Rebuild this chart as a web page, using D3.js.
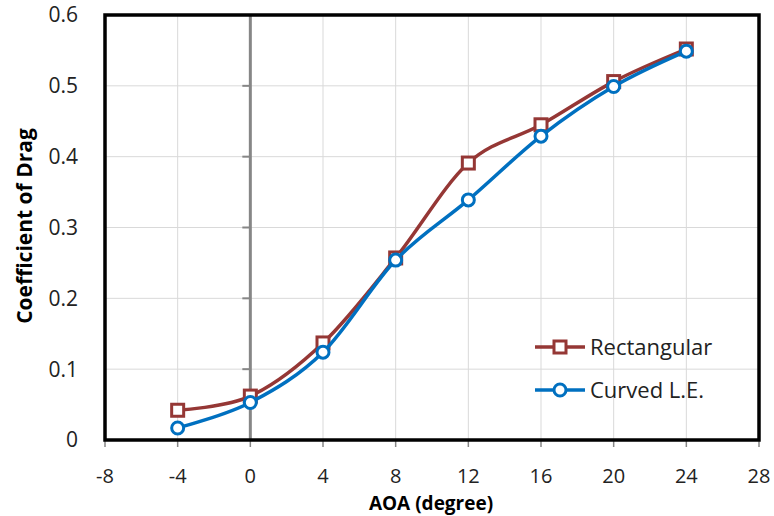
<!DOCTYPE html>
<html>
<head>
<meta charset="utf-8">
<script src="https://cdn.jsdelivr.net/npm/d3@7"></script>
<style>
  body { margin: 0; background: #fff; }
  text { font-family: "Open Sans", "Noto Sans", sans-serif; }
</style>
</head>
<body>
<svg id="chart"></svg>
<script>
// Data
const aoa = [-4, 0, 4, 8, 12, 16, 20, 24];
const rectangular = [0.042, 0.062, 0.137, 0.257, 0.391, 0.445, 0.506, 0.552];
const curvedLE = [0.017, 0.053, 0.124, 0.254, 0.339, 0.429, 0.499, 0.549];
const xTicks = [-8, -4, 0, 4, 8, 12, 16, 20, 24, 28];
const yTicks = [0, 0.1, 0.2, 0.3, 0.4, 0.5, 0.6];

const width = 774, height = 516;
const margin = { top: 15, right: 15, bottom: 76, left: 105 };
const w = width - margin.left - margin.right;
const h = height - margin.top - margin.bottom;

const svg = d3.select("#chart")
    .attr("width", width)
    .attr("height", height);

const g = svg.append("g")
    .attr("transform", "translate(" + margin.left + "," + margin.top + ")");

const x = d3.scaleLinear().domain([-8, 28]).range([0, w]);
const y = d3.scaleLinear().domain([0, 0.6]).range([h, 0]);

// gridlines
g.append("g").selectAll("line")
    .data(xTicks)
    .enter().append("line")
    .attr("x1", d => x(d)).attr("x2", d => x(d))
    .attr("y1", 0).attr("y2", h)
    .attr("stroke", "#d9d9d9").attr("stroke-width", 1);

g.append("g").selectAll("line")
    .data(yTicks)
    .enter().append("line")
    .attr("x1", 0).attr("x2", w)
    .attr("y1", d => y(d)).attr("y2", d => y(d))
    .attr("stroke", "#d9d9d9").attr("stroke-width", 1);

// vertical axis at x = 0 with ticks
g.append("line")
    .attr("x1", x(0)).attr("x2", x(0))
    .attr("y1", 0).attr("y2", h)
    .attr("stroke", "#868686").attr("stroke-width", 3);

g.append("g").selectAll("line")
    .data(yTicks)
    .enter().append("line")
    .attr("x1", x(0) - 8).attr("x2", x(0))
    .attr("y1", d => y(d)).attr("y2", d => y(d))
    .attr("stroke", "#868686").attr("stroke-width", 2);

// x ticks below the plot
g.append("g").selectAll("line")
    .data(xTicks)
    .enter().append("line")
    .attr("x1", d => x(d)).attr("x2", d => x(d))
    .attr("y1", h).attr("y2", h + 7)
    .attr("stroke", "#868686").attr("stroke-width", 1.5);

// border
g.append("rect")
    .attr("x", 0).attr("y", 0)
    .attr("width", w).attr("height", h)
    .attr("fill", "none")
    .attr("stroke", "#000").attr("stroke-width", 3.5);

// tick labels
g.append("g").selectAll("text")
    .data(yTicks)
    .enter().append("text")
    .attr("x", -27)
    .attr("y", d => y(d))
    .attr("dy", "0.35em")
    .attr("text-anchor", "end")
    .attr("font-size", 21)
    .attr("fill", "#222")
    .text(d => d === 0 ? "0" : d3.format(".1f")(d));

g.append("g").selectAll("text")
    .data(xTicks)
    .enter().append("text")
    .attr("x", d => x(d))
    .attr("y", h + 43)
    .attr("text-anchor", "middle")
    .attr("font-size", 20)
    .attr("fill", "#222")
    .text(d => d);

// axis titles
svg.append("text")
    .attr("x", 431)
    .attr("y", 510)
    .attr("text-anchor", "middle")
    .attr("font-size", 19)
    .attr("font-weight", "bold")
    .text("AOA (degree)");

svg.append("text")
    .attr("transform", "rotate(-90)")
    .attr("x", -226)
    .attr("y", 32)
    .attr("text-anchor", "middle")
    .attr("font-size", 21)
    .attr("font-weight", "bold")
    .text("Coefficient of Drag");

// series
const series = [
    { name: "Rectangular", values: rectangular, color: "#953735", marker: "square" },
    { name: "Curved L.E.", values: curvedLE, color: "#0070c0", marker: "circle" }
];

const line = d3.line()
    .x(d => x(d[0]))
    .y(d => y(d[1]))
    .curve(d3.curveCatmullRom.alpha(0));

function drawMarker(sel, type, color) {
    if (type === "square") {
        sel.append("rect")
            .attr("x", -6).attr("y", -6)
            .attr("width", 12).attr("height", 12)
            .attr("fill", "#fff")
            .attr("stroke", color).attr("stroke-width", 3);
    } else {
        sel.append("circle")
            .attr("r", 6)
            .attr("fill", "#fff")
            .attr("stroke", color).attr("stroke-width", 3);
    }
}

series.forEach(s => {
    const pts = aoa.map((a, i) => [a, s.values[i]]);
    g.append("path")
        .datum(pts)
        .attr("fill", "none")
        .attr("stroke", s.color)
        .attr("stroke-width", 3.5)
        .attr("d", line);

    const m = g.append("g").selectAll("g")
        .data(pts)
        .enter().append("g")
        .attr("transform", d => "translate(" + x(d[0]) + "," + y(d[1]) + ")");
    drawMarker(m, s.marker, s.color);
});

// legend
const legend = svg.append("g");
series.forEach((s, i) => {
    const ly = 347 + i * 43;
    legend.append("line")
        .attr("x1", 535).attr("x2", 585)
        .attr("y1", ly).attr("y2", ly)
        .attr("stroke", s.color).attr("stroke-width", 3.5);
    const m = legend.append("g").attr("transform", "translate(560," + ly + ")");
    drawMarker(m, s.marker, s.color);
    legend.append("text")
        .attr("x", 590)
        .attr("y", ly)
        .attr("dy", "0.35em")
        .attr("font-size", 22)
        .attr("fill", "#222")
        .text(s.name);
});
</script>
</body>
</html>
